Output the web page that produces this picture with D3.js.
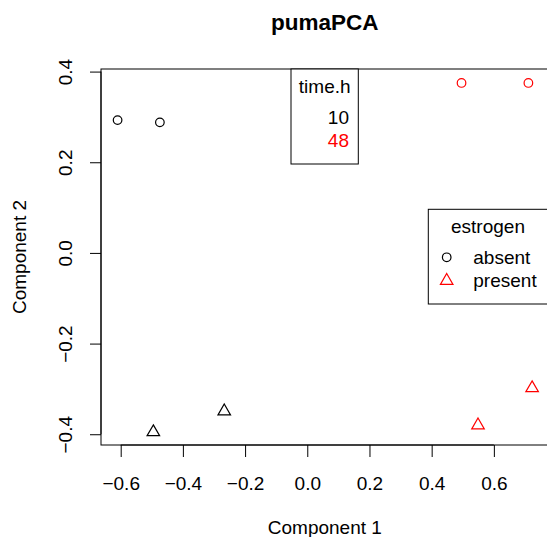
<!DOCTYPE html>
<html>
<head>
<meta charset="utf-8">
<script src="https://cdn.jsdelivr.net/npm/d3@7"></script>
<style>
  body { margin: 0; background: #fff; }
  text { font-family: "Liberation Sans", Arial, sans-serif; }
</style>
</head>
<body>
<svg id="chart" width="547" height="537"></svg>
<script>
// scores
var comp1 = [-0.610, -0.474, 0.496, 0.711, -0.495, -0.267, 0.549, 0.723];
var comp2 = [0.293, 0.288, 0.375, 0.375, -0.393, -0.347, -0.378, -0.296];
var estrogen = ["absent", "absent", "absent", "absent", "present", "present", "present", "present"];
var timeH = ["10", "10", "48", "48", "10", "10", "48", "48"];
var xTicks = [-0.6, -0.4, -0.2, 0.0, 0.2, 0.4, 0.6];
var yTicks = [-0.4, -0.2, 0.0, 0.2, 0.4];
var timeLevels = ["10", "48"];
var estrogenLevels = ["absent", "present"];

function drawPlot() {
    var colorOf = d3.scaleOrdinal().domain(timeLevels).range(["#000000", "#ff0000"]);
    var shapeOf = d3.scaleOrdinal().domain(estrogenLevels).range(["circle", "triangle"]);

    var svg = d3.select("#chart");

    // R style: 4% padding on the data range
    function padded(v) {
        var e = d3.extent(v), p = (e[1] - e[0]) * 0.04;
        return [e[0] - p, e[1] + p];
    }

    var pLeft = 101, pRight = 548.7, pTop = 69, pBottom = 445;

    var x = d3.scaleLinear().domain(padded(comp1)).range([pLeft, pRight]);
    var y = d3.scaleLinear().domain(padded(comp2)).range([pBottom, pTop]);

    var fmt = function (d) { return d3.format(".1f")(d).replace("-", "\u2212"); };

    // plot box (right edge falls outside the window)
    svg.append("rect")
        .attr("x", pLeft).attr("y", pTop)
        .attr("width", pRight - pLeft).attr("height", pBottom - pTop)
        .attr("fill", "none").attr("stroke", "#000").attr("stroke-width", 1);

    // x axis
    var xAxis = svg.append("g").attr("transform", "translate(0," + pBottom + ")")
        .call(d3.axisBottom(x).tickValues(xTicks).tickSize(12).tickPadding(20).tickFormat(fmt));
    xAxis.select(".domain").attr("d", "M" + x(xTicks[0]) + ",0H" + x(xTicks[xTicks.length - 1]));
    xAxis.selectAll("text").attr("font-size", 19).attr("font-family", "Liberation Sans, Arial, sans-serif").attr("fill", "#000");
    xAxis.selectAll("line").attr("stroke", "#000");

    // y axis, labels rotated like R's default
    var yAxis = svg.append("g").attr("transform", "translate(" + pLeft + ",0)")
        .call(d3.axisLeft(y).tickValues(yTicks).tickSize(11).tickFormat(fmt));
    yAxis.select(".domain").attr("d", "M0," + y(yTicks[0]) + "V" + y(yTicks[yTicks.length - 1]));
    yAxis.selectAll("line").attr("stroke", "#000");
    yAxis.selectAll("text")
        .attr("font-size", 19).attr("font-family", "Liberation Sans, Arial, sans-serif").attr("fill", "#000")
        .attr("x", null).attr("dy", null)
        .attr("text-anchor", "middle")
        .attr("transform", "translate(-29.5,0) rotate(-90)");

    // points
    var tri = d3.symbol().type(d3.symbolTriangle).size(68);
    function mark(g, shape, px, py, col) {
        if (shape === "circle") {
            g.append("circle").attr("cx", px).attr("cy", py).attr("r", 4.3)
                .attr("fill", "none").attr("stroke", col).attr("stroke-width", 1.2);
        } else {
            g.append("path").attr("d", tri).attr("transform", "translate(" + px + "," + (py + 1) + ")")
                .attr("fill", "none").attr("stroke", col).attr("stroke-width", 1.2);
        }
    }
    comp1.forEach(function (c, i) {
        mark(svg, shapeOf(estrogen[i]), x(c), y(comp2[i]), colorOf(timeH[i]));
    });

    // title and axis labels
    svg.append("text").attr("x", (pLeft + pRight) / 2).attr("y", 29.5)
        .attr("text-anchor", "middle").attr("font-size", 22.5).attr("font-weight", "bold")
        .text("pumaPCA");
    svg.append("text").attr("x", (pLeft + pRight) / 2).attr("y", 534)
        .attr("text-anchor", "middle").attr("font-size", 19)
        .text("Component 1");
    svg.append("text").attr("transform", "translate(25.5," + (pTop + pBottom) / 2 + ") rotate(-90)")
        .attr("text-anchor", "middle").attr("font-size", 19)
        .text("Component 2");

    // legend: time.h
    var lg1 = svg.append("g");
    lg1.append("rect").attr("x", 291).attr("y", 69).attr("width", 67.3).attr("height", 95)
        .attr("fill", "#fff").attr("stroke", "#000");
    lg1.append("text").attr("x", 324.7).attr("y", 93).attr("text-anchor", "middle")
        .attr("font-size", 19).text("time.h");
    timeLevels.forEach(function (t, i) {
        lg1.append("text").attr("x", 349).attr("y", 124 + i * 22.5).attr("text-anchor", "end")
            .attr("font-size", 19).attr("fill", colorOf(t)).text(t);
    });

    // legend: estrogen
    var lg2 = svg.append("g");
    lg2.append("rect").attr("x", 428.3).attr("y", 209.3).attr("width", 125).attr("height", 94.7)
        .attr("fill", "#fff").attr("stroke", "#000");
    lg2.append("text").attr("x", 488).attr("y", 233).attr("text-anchor", "middle")
        .attr("font-size", 19).text("estrogen");
    estrogenLevels.forEach(function (e, i) {
        var yy = 257.3 + i * 22.5;
        mark(lg2, shapeOf(e), 446.7, yy, i === 0 ? "#000" : "#ff0000");
        lg2.append("text").attr("x", 473.3).attr("y", yy + 7).attr("font-size", 19).text(e);
    });
}

drawPlot();
</script>
</body>
</html>
